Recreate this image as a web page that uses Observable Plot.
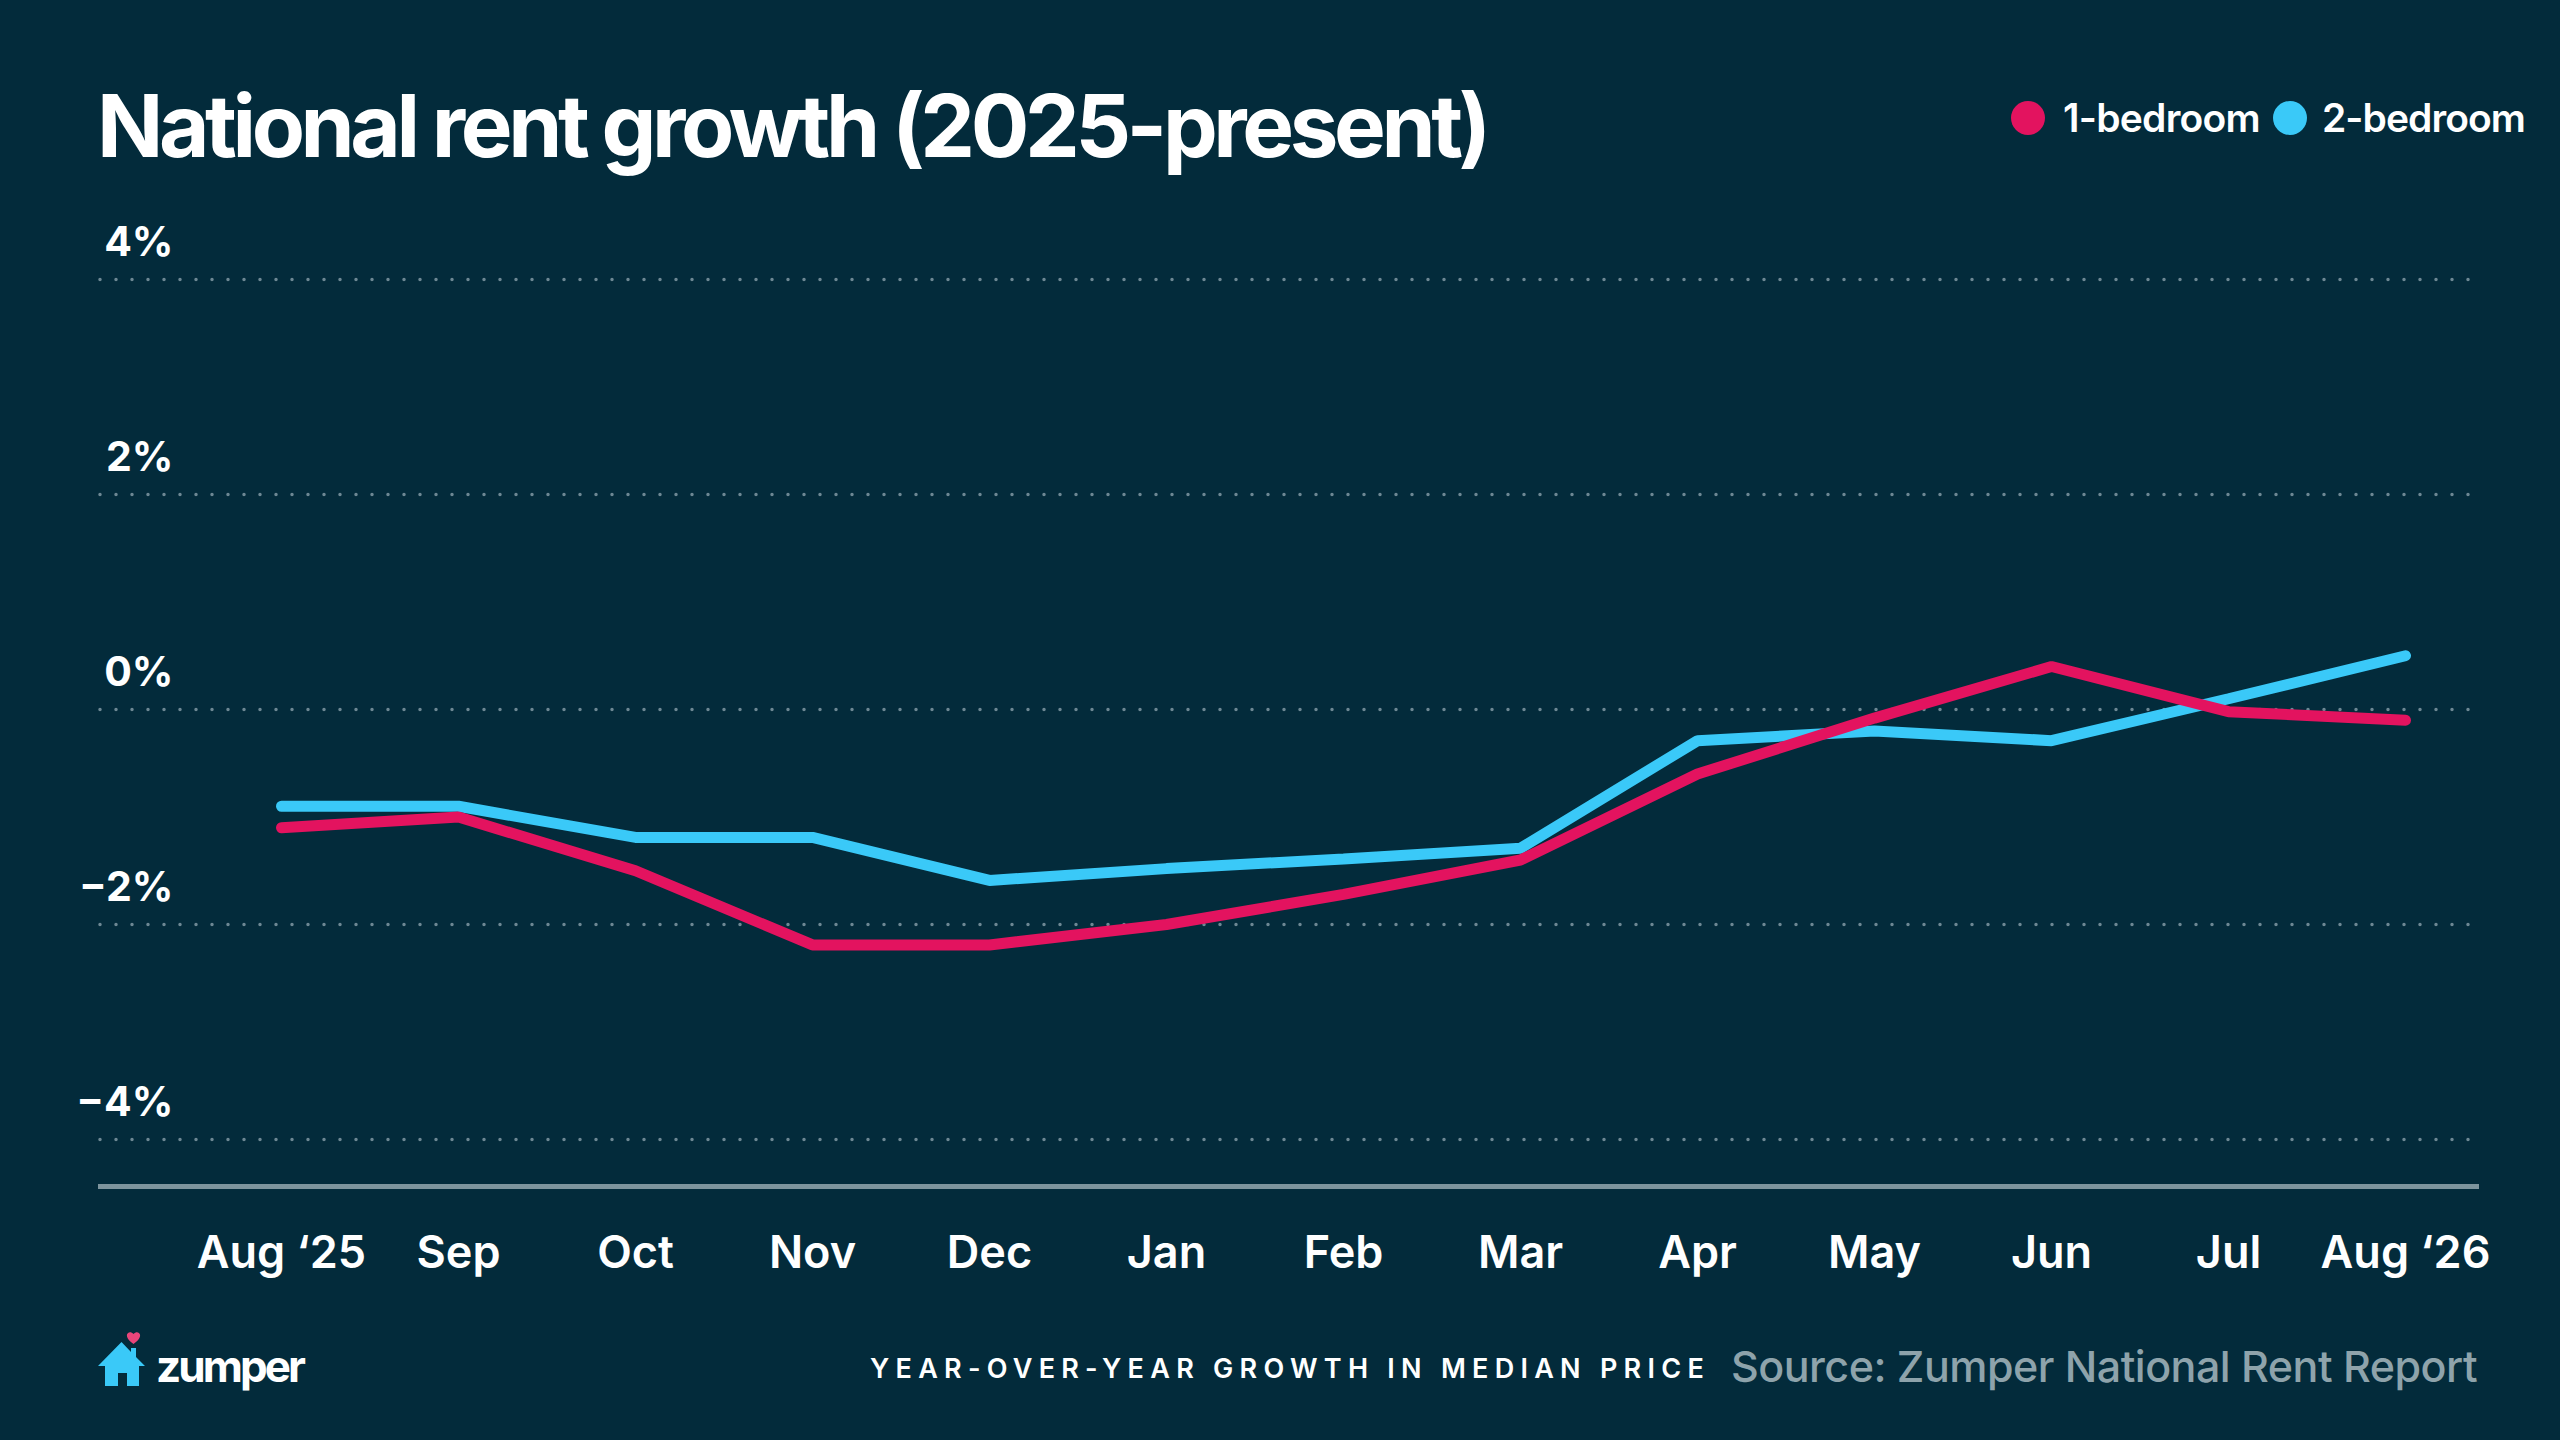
<!DOCTYPE html>
<html>
<head>
<meta charset="utf-8">
<script src="https://cdn.jsdelivr.net/npm/d3@7"></script>
<script src="https://cdn.jsdelivr.net/npm/@observablehq/plot@0.6"></script>
<style>
  html, body { margin: 0; padding: 0; background: #032b3b; }
  #wrap { position: relative; width: 2560px; height: 1440px; background: #032b3b; overflow: hidden;
          font-family: Inter, "Open Sans", "DejaVu Sans", sans-serif; color: #fff; }
  .t { position: absolute; white-space: nowrap; line-height: 1; }
  #chart { position: absolute; left: 0; top: 200px; }
  .dot { position: absolute; border-radius: 50%; }
</style>
</head>
<body>
<div id="wrap">
  <div id="title" class="t" style="font-weight:650;">National rent growth (2025-present)</div>
  <div id="legend"></div>
  <div id="chart"></div>
  <svg id="logo" style="position:absolute;left:0;top:0;" width="200" height="1440" viewBox="0 0 200 1440">
    <path d="M121.5 1342 L98 1366 L105 1366 L105 1386 L118 1386 L118 1373 L127 1373 L127 1386 L139 1386 L139 1366 L145 1366 L136 1357 L136 1348 L131 1348 L131 1352 Z" fill="#3ac9f8"/>
    <path d="M133.5 1344 C128 1340 126.5 1337 127 1334.5 C127.6 1332 131 1331 133.5 1334 C136 1331 139.4 1332 140 1334.5 C140.5 1337 139 1340 133.5 1344 Z" fill="#e8457a"/>
  </svg>
  <div id="brand" class="t" style="font-weight:700;">zumper</div>
  <div id="caption" class="t" style="font-weight:600;">YEAR-OVER-YEAR GROWTH IN MEDIAN PRICE</div>
  <div id="source" class="t" style="font-weight:500;color:#8ea3ab;">Source: Zumper National Rent Report</div>
</div>
<script>
// ---- data ----
const months = ["Aug ‘25", "Sep", "Oct", "Nov", "Dec", "Jan", "Feb", "Mar", "Apr", "May", "Jun", "Jul", "Aug ‘26"];
const oneBedroom = [-1.10, -1.00, -1.50, -2.19, -2.19, -2.00, -1.72, -1.40, -0.60, -0.08, 0.40, -0.02, -0.10];
const twoBedroom = [-0.90, -0.90, -1.19, -1.19, -1.59, -1.48, -1.39, -1.29, -0.29, -0.20, -0.29, 0.10, 0.50];
const yTicks = [4, 2, 0, -2, -4];
const seriesNames = ["1-bedroom", "2-bedroom"];
const seriesColors = ["#e3135f", "#3ac9f8"];

const rows = [];
months.forEach((m, i) => rows.push({ month: m, series: "2-bedroom", value: twoBedroom[i] }));
months.forEach((m, i) => rows.push({ month: m, series: "1-bedroom", value: oneBedroom[i] }));

const yMin = -4.437;
const fmt = d => (d < 0 ? "\u2212" : "") + Math.abs(d) + "%";

const chart = Plot.plot({
  width: 2560,
  height: 1100,
  marginLeft: 100,
  marginRight: 85,
  marginTop: 79,
  marginBottom: 114,
  style: { background: "transparent", overflow: "visible", fontFamily: "Inter, 'Open Sans', sans-serif" },
  x: { type: "point", domain: months, range: [278, 2407], padding: 0, axis: null },
  y: { domain: [yMin, 4], axis: null },
  color: { domain: seriesNames, range: seriesColors },
  marks: [
    Plot.ruleY(yTicks, { stroke: "#6d8793", strokeWidth: 3.5, strokeDasharray: "0 16", strokeLinecap: "round" }),
    Plot.text(yTicks, { y: d => d, text: fmt, frameAnchor: "left", dx: 73, dy: -37, textAnchor: "end",
      fill: "#ffffff", fontSize: 41, fontWeight: 650 }),
    Plot.ruleY([yMin], { stroke: "#7d949d", strokeWidth: 5, insetLeft: -2, insetRight: -4 }),
    Plot.line(rows, { x: "month", y: "value", z: "series", stroke: "series", strokeWidth: 11,
      strokeLinecap: "round", strokeLinejoin: "miter" }),
    Plot.text(months, { x: d => d, text: d => d, frameAnchor: "bottom", dy: 67, lineAnchor: "middle",
      fill: "#ffffff", fontSize: 45, fontWeight: 600 })
  ]
});
document.getElementById("chart").appendChild(chart);

// ---- legend ----
const legend = document.getElementById("legend");
const legendX = [2028, 2290];
seriesNames.forEach((name, i) => {
  const dot = document.createElement("div");
  dot.className = "dot";
  dot.style.cssText += `left:${legendX[i] - 17}px;top:${118 - 17}px;width:34px;height:34px;background:${seriesColors[i]};`;
  legend.appendChild(dot);
  const t = document.createElement("div");
  t.className = "t";
  t.id = "leg" + i;
  t.textContent = name;
  t.style.fontWeight = 600;
  legend.appendChild(t);
});

// ---- text placement helpers ----
function place(id, left, baseline, fs, targetWidth) {
  const el = document.getElementById(id);
  el.style.fontSize = fs + "px";
  el.style.left = left + "px";
  el.style.top = (baseline - 0.863 * fs) + "px";
  if (targetWidth) {
    const n = el.textContent.length;
    const w = el.getBoundingClientRect().width;
    el.style.letterSpacing = ((targetWidth - w) / n) + "px";
  }
}
place("title", 97, 157, 87, 1390);
place("leg0", 2063, 132, 39, 197);
place("leg1", 2322, 132, 39, 203);
place("brand", 156, 1382, 44, 147);
place("caption", 870, 1378, 27, 840);
place("source", 1731, 1382, 43, 746);
</script>
</body>
</html>
